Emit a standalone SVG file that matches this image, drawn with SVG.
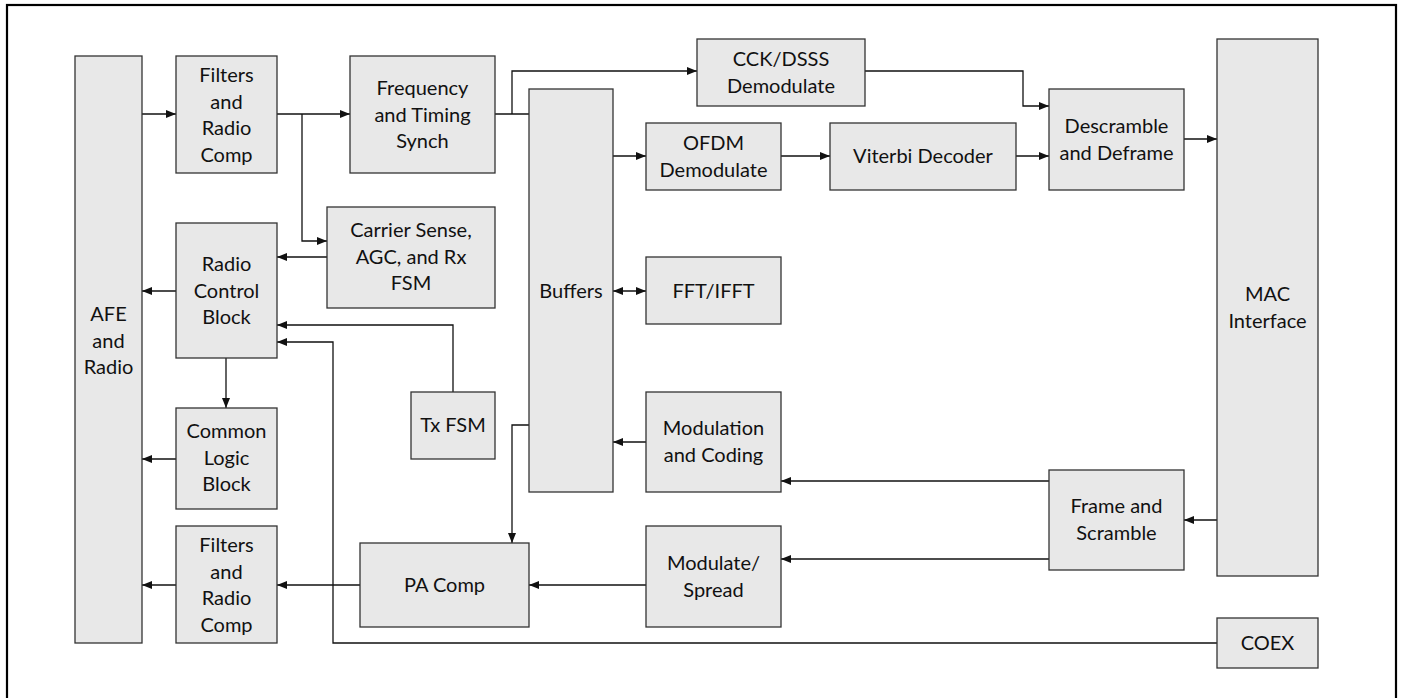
<svg xmlns="http://www.w3.org/2000/svg" width="1403" height="698" viewBox="0 0 1403 698">
<style>
.b{fill:#e8e8e8;stroke:#333;stroke-width:1.3}
.t{font-family:Lato,"Liberation Sans",sans-serif;font-size:20px;fill:#111;text-anchor:middle}
.c{fill:none;stroke:#111;stroke-width:1.3}
.a{marker-end:url(#ah)}
</style>
<defs>
<marker id="ah" markerWidth="10" markerHeight="8" refX="10" refY="4" orient="auto" markerUnits="userSpaceOnUse"><path d="M0,0 L10,4 L0,8 Z" fill="#111"/></marker>
<marker id="as" markerWidth="10" markerHeight="8" refX="0" refY="4" orient="auto" markerUnits="userSpaceOnUse"><path d="M10,0 L0,4 L10,8 Z" fill="#111"/></marker>
</defs>
<rect x="7" y="5" width="1389" height="705" fill="#fff" stroke="#000" stroke-width="2.2"/>
<g id="connectors">
<path class="c a" d="M142,114 H176"/>
<path class="c a" d="M277,114 H350"/>
<path class="c a" d="M302,114 V241 H327"/>
<path class="c" d="M495,114 H529"/>
<path class="c a" d="M512,114 V71 H697"/>
<path class="c a" d="M613,156 H646"/>
<path class="c a" d="M781,156 H830"/>
<path class="c a" d="M1016,156 H1049"/>
<path class="c a" d="M865,71 H1023 V106 H1049"/>
<path class="c a" d="M1184,139 H1217"/>
<path class="c a" d="M327,257 H277"/>
<path class="c a" d="M176,291 H142"/>
<path class="c a" d="M453,392 V325 H277"/>
<path class="c a" d="M1217,643 H333 V342 H277"/>
<path class="c a" d="M226,358 V408"/>
<path class="c a" d="M176,459 H142"/>
<path class="c a" d="M176,585 H142"/>
<path class="c a" d="M360,585 H277"/>
<path class="c a" d="M646,585 H529"/>
<path class="c a" d="M529,425 H512 V543"/>
<path class="c" d="M613,291 H646" marker-start="url(#as)" marker-end="url(#ah)"/>
<path class="c a" d="M646,442 H613"/>
<path class="c a" d="M1049,481 H781"/>
<path class="c a" d="M1049,559 H781"/>
<path class="c a" d="M1217,520 H1184"/>
</g>
<g id="afe"><rect class="b" x="75" y="56" width="67" height="587"/><text class="t" x="108.5" y="321"><tspan x="108.5">AFE</tspan><tspan x="108.5" dy="26.7">and</tspan><tspan x="108.5" dy="26.7">Radio</tspan></text></g>
<g id="filters-rx"><rect class="b" x="176" y="56" width="101" height="117"/><text class="t" x="226.5" y="82"><tspan x="226.5">Filters</tspan><tspan x="226.5" dy="26.7">and</tspan><tspan x="226.5" dy="26.7">Radio</tspan><tspan x="226.5" dy="26.7">Comp</tspan></text></g>
<g id="freq"><rect class="b" x="350" y="56" width="145" height="117"/><text class="t" x="422.5" y="95"><tspan x="422.5">Frequency</tspan><tspan x="422.5" dy="26.7">and Timing</tspan><tspan x="422.5" dy="26.7">Synch</tspan></text></g>
<g id="carrier"><rect class="b" x="327" y="207" width="168" height="101"/><text class="t" x="411" y="237"><tspan x="411">Carrier Sense,</tspan><tspan x="411" dy="26.7">AGC, and Rx</tspan><tspan x="411" dy="26.7">FSM</tspan></text></g>
<g id="radioctl"><rect class="b" x="176" y="223" width="101" height="135"/><text class="t" x="226.5" y="271"><tspan x="226.5">Radio</tspan><tspan x="226.5" dy="26.7">Control</tspan><tspan x="226.5" dy="26.7">Block</tspan></text></g>
<g id="common"><rect class="b" x="176" y="408" width="101" height="101"/><text class="t" x="226.5" y="438"><tspan x="226.5">Common</tspan><tspan x="226.5" dy="26.7">Logic</tspan><tspan x="226.5" dy="26.7">Block</tspan></text></g>
<g id="filters-tx"><rect class="b" x="176" y="526" width="101" height="117"/><text class="t" x="226.5" y="552"><tspan x="226.5">Filters</tspan><tspan x="226.5" dy="26.7">and</tspan><tspan x="226.5" dy="26.7">Radio</tspan><tspan x="226.5" dy="26.7">Comp</tspan></text></g>
<g id="txfsm"><rect class="b" x="411" y="392" width="84" height="67"/><text class="t" x="453" y="432">Tx FSM</text></g>
<g id="pacomp"><rect class="b" x="360" y="543" width="169" height="84"/><text class="t" x="444.5" y="592">PA Comp</text></g>
<g id="buffers"><rect class="b" x="529" y="89" width="84" height="403"/><text class="t" x="571" y="298">Buffers</text></g>
<g id="cck"><rect class="b" x="697" y="39" width="168" height="67"/><text class="t" x="781" y="66"><tspan x="781">CCK/DSSS</tspan><tspan x="781" dy="26.7">Demodulate</tspan></text></g>
<g id="ofdm"><rect class="b" x="646" y="123" width="135" height="67"/><text class="t" x="713.5" y="150"><tspan x="713.5">OFDM</tspan><tspan x="713.5" dy="26.7">Demodulate</tspan></text></g>
<g id="viterbi"><rect class="b" x="830" y="123" width="186" height="67"/><text class="t" x="923" y="163">Viterbi Decoder</text></g>
<g id="descramble"><rect class="b" x="1049" y="89" width="135" height="101"/><text class="t" x="1116.5" y="133"><tspan x="1116.5">Descramble</tspan><tspan x="1116.5" dy="26.7">and Deframe</tspan></text></g>
<g id="mac"><rect class="b" x="1217" y="39" width="101" height="537"/><text class="t" x="1267.5" y="301"><tspan x="1267.5">MAC</tspan><tspan x="1267.5" dy="26.7">Interface</tspan></text></g>
<g id="fft"><rect class="b" x="646" y="257" width="135" height="67"/><text class="t" x="713.5" y="298">FFT/IFFT</text></g>
<g id="modcod"><rect class="b" x="646" y="392" width="135" height="100"/><text class="t" x="713.5" y="435"><tspan x="713.5">Modulation</tspan><tspan x="713.5" dy="26.7">and Coding</tspan></text></g>
<g id="modspread"><rect class="b" x="646" y="526" width="135" height="101"/><text class="t" x="713.5" y="570"><tspan x="713.5">Modulate/</tspan><tspan x="713.5" dy="26.7">Spread</tspan></text></g>
<g id="framescr"><rect class="b" x="1049" y="470" width="135" height="100"/><text class="t" x="1116.5" y="513"><tspan x="1116.5">Frame and</tspan><tspan x="1116.5" dy="26.7">Scramble</tspan></text></g>
<g id="coex"><rect class="b" x="1217" y="618" width="101" height="50"/><text class="t" x="1267.5" y="650">COEX</text></g>
</svg>
